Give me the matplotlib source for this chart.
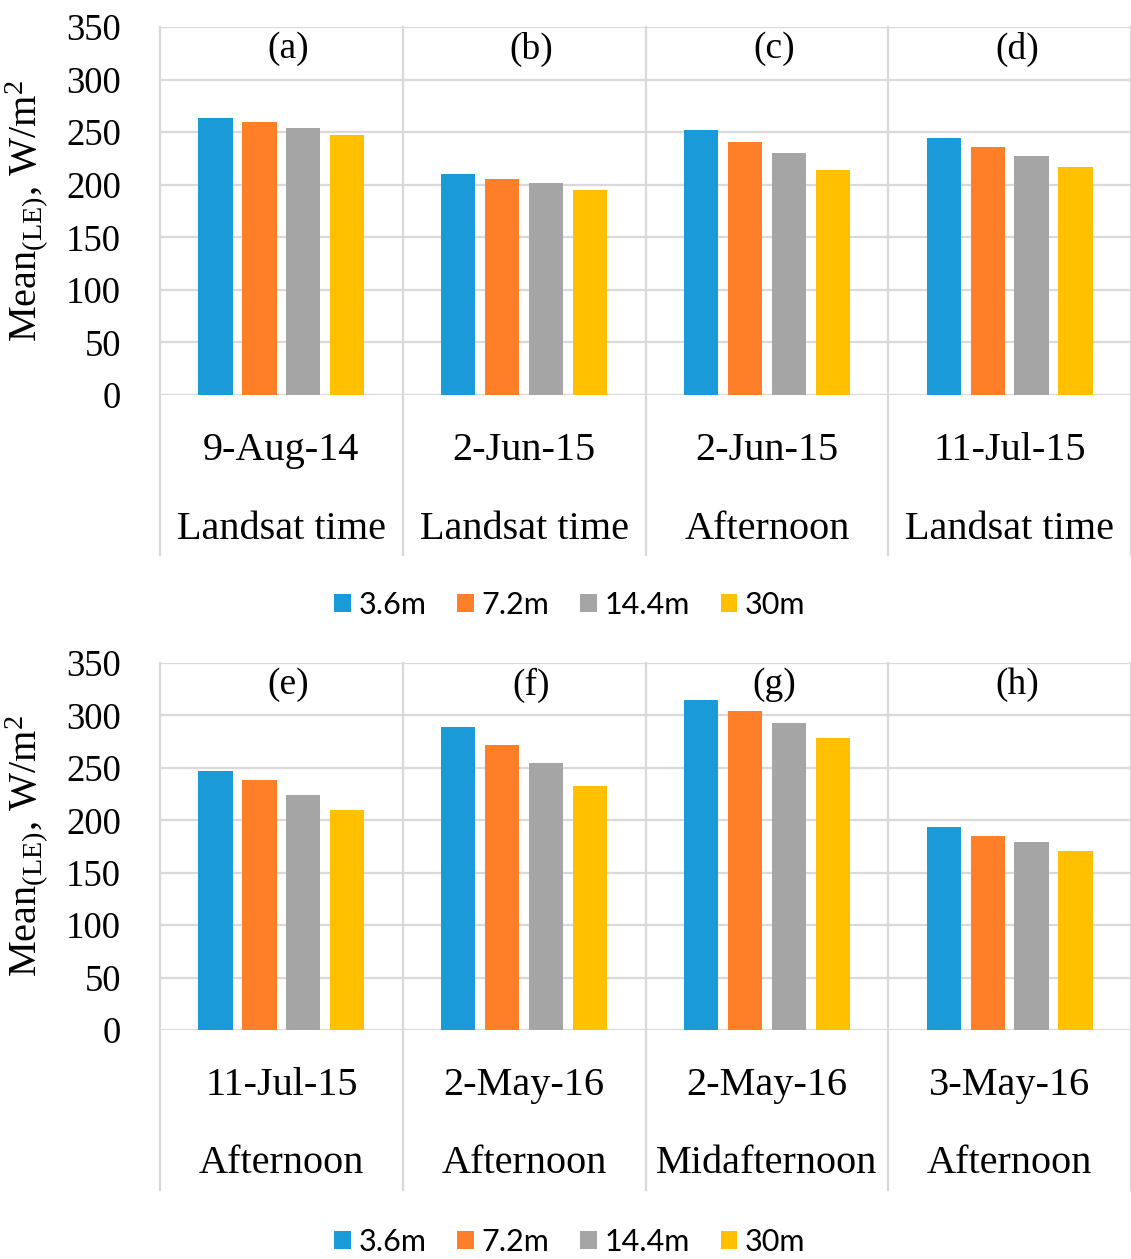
import matplotlib
matplotlib.use("Agg")
import matplotlib.pyplot as plt
from matplotlib.patches import Patch
import numpy as np

# ---------------- data ----------------
series = ["3.6m", "7.2m", "14.4m", "30m"]
colors = ["#1A9AD6", "#FE7F27", "#A5A5A5", "#FFC000"]

top_dates = ["9-Aug-14", "2-Jun-15", "2-Jun-15", "11-Jul-15"]
top_times = ["Landsat time", "Landsat time", "Afternoon", "Landsat time"]
top_panels = ["(a)", "(b)", "(c)", "(d)"]
top_36 = [263, 210, 252, 244]
top_72 = [260, 205, 241, 236]
top_144 = [254, 202, 230, 227]
top_30 = [247, 195, 214, 217]

bot_dates = ["11-Jul-15", "2-May-16", "2-May-16", "3-May-16"]
bot_times = ["Afternoon", "Afternoon", "Midafternoon", "Afternoon"]
bot_panels = ["(e)", "(f)", "(g)", "(h)"]
bot_36 = [247, 289, 315, 194]
bot_72 = [238, 272, 304, 185]
bot_144 = [224, 255, 293, 179]
bot_30 = [210, 233, 278, 171]

yticks = [0, 50, 100, 150, 200, 250, 300, 350]

# ---------------- style ----------------
plt.rcParams["font.family"] = ["Liberation Serif", "DejaVu Serif"]
plt.rcParams["mathtext.fontset"] = "custom"
plt.rcParams["mathtext.rm"] = "Liberation Serif"
plt.rcParams["mathtext.it"] = "Liberation Serif:italic"

W, H = 1131, 1259
fig = plt.figure(figsize=(W / 100, H / 100), dpi=100)
GRID = "#D9D9D9"


def draw_panel(ax_top_px, ax_bot_px, vals, dates, times, panels, legend_y_px):
    left = 160 / W
    width = (W - 160) / W
    bottom = 1 - ax_bot_px / H
    height = (ax_bot_px - ax_top_px) / H
    ax = fig.add_axes([left, bottom, width, height])
    x = np.arange(len(dates))
    step = 0.181
    bw = 0.141
    for i, (v, c) in enumerate(zip(vals, colors)):
        ax.bar(x + (i - 1.5) * step, v, width=bw, color=c, zorder=3)
    ax.set_xlim(-0.5, len(dates) - 0.5)
    ax.set_ylim(0, 350)
    ax.set_yticks(yticks)
    ax.set_yticklabels([str(t) for t in yticks], fontsize=26.5)
    ax.tick_params(axis="y", length=0, pad=28)
    ax.set_xticks([])
    for s in ax.spines.values():
        s.set_visible(False)
    ax.yaxis.grid(True, color=GRID, linewidth=1.6, zorder=0)
    ax.set_axisbelow(True)
    # vertical category separators, extending below into the label table
    lower = -160 / (ax_bot_px - ax_top_px)
    for b in np.arange(-0.5, len(dates), 1.0):
        ax.plot([b, b], [lower, 1], transform=ax.get_xaxis_transform(),
                color=GRID, linewidth=1.6, clip_on=False, zorder=1)
    for xi, d, t, p in zip(x, dates, times, panels):
        ax.text(xi, -0.150, d, transform=ax.get_xaxis_transform(),
                ha="center", va="center", fontsize=29)
        ax.text(xi, -0.365, t, transform=ax.get_xaxis_transform(),
                ha="center", va="center", fontsize=29)
        ax.text(xi + 0.03, 0.94, p, transform=ax.get_xaxis_transform(),
                ha="center", va="center", fontsize=27)
    fig.text(27 / W, bottom + height / 2, r"Mean$_{\mathrm{(LE)}}$, W/m$^{2}$",
             rotation=90, ha="center", va="center", fontsize=29)
    handles = [Patch(facecolor=c, edgecolor="none", label=s) for s, c in zip(series, colors)]
    fig.legend(handles=handles, loc="center", bbox_to_anchor=(570 / W, 1 - legend_y_px / H),
               ncol=4, frameon=False, prop={"family": "Lato", "size": 22},
               handlelength=0.55, handleheight=0.55, handletextpad=0.25,
               columnspacing=1.0, borderaxespad=0, borderpad=0)
    return ax


draw_panel(27, 395, [top_36, top_72, top_144, top_30], top_dates, top_times, top_panels, 605)
draw_panel(663, 1030, [bot_36, bot_72, bot_144, bot_30], bot_dates, bot_times, bot_panels, 1242)

fig.savefig("out.png", dpi=100, facecolor="white")
